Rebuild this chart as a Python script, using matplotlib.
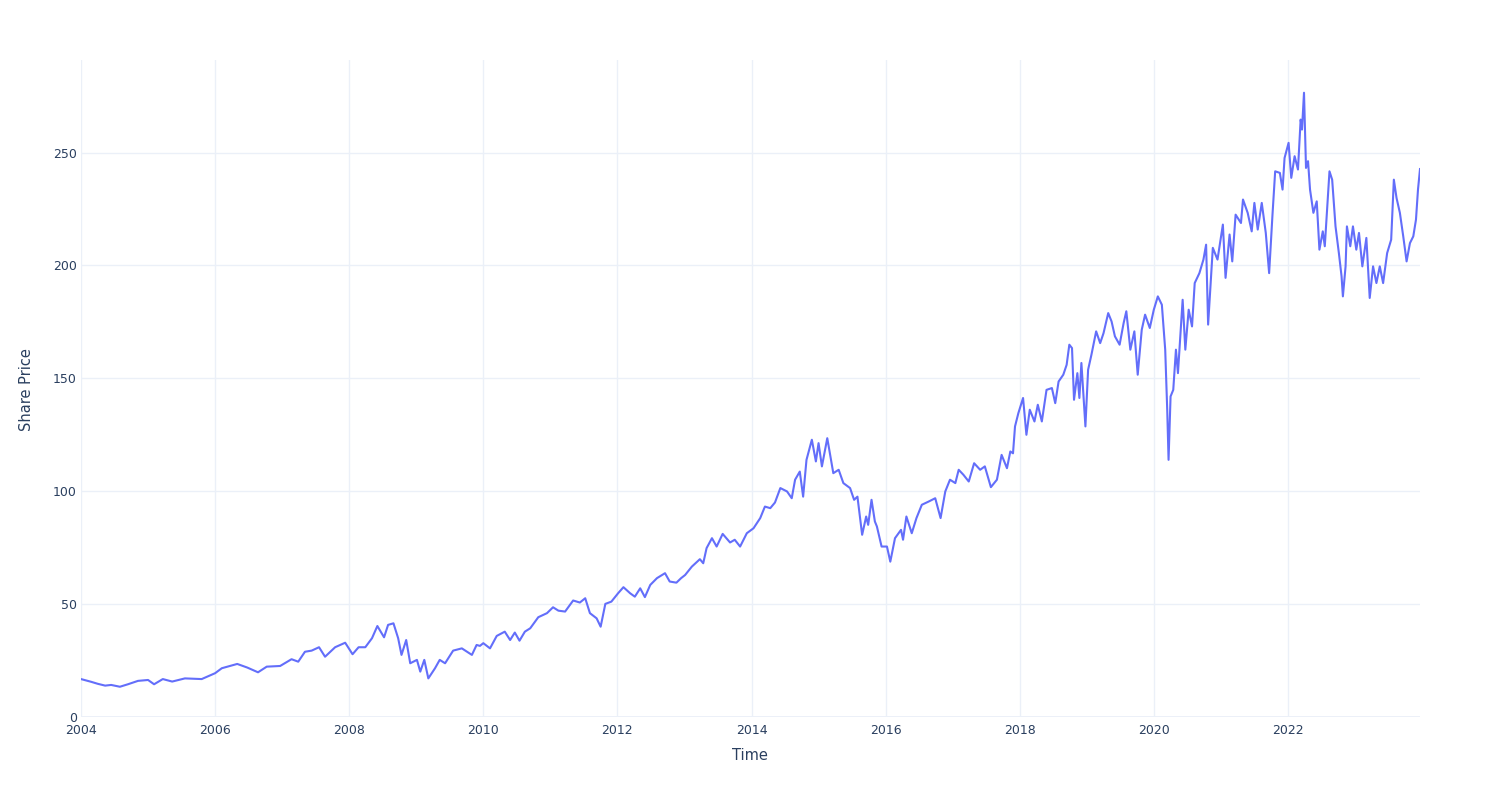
import matplotlib
matplotlib.use('Agg')
import matplotlib.pyplot as plt

# values (decimal year, share price)
years = [2004.00, 2004.15, 2004.25, 2004.36, 2004.45, 2004.58, 2004.70, 2004.85, 2005.00, 2005.09,
         2005.22, 2005.36, 2005.55, 2005.80, 2006.00, 2006.10, 2006.33, 2006.48, 2006.64, 2006.77,
         2006.97, 2007.14, 2007.24, 2007.34, 2007.44, 2007.55, 2007.64, 2007.79, 2007.94, 2008.05,
         2008.14, 2008.24, 2008.34, 2008.42, 2008.52, 2008.58, 2008.66, 2008.73, 2008.78, 2008.85,
         2008.91, 2009.01, 2009.06, 2009.12, 2009.18, 2009.28, 2009.35, 2009.43, 2009.55, 2009.68,
         2009.83, 2009.90, 2009.95, 2010.00, 2010.10, 2010.20, 2010.32, 2010.40, 2010.47, 2010.54,
         2010.62, 2010.70, 2010.82, 2010.95, 2011.04, 2011.12, 2011.22, 2011.34, 2011.44, 2011.52,
         2011.59, 2011.69, 2011.75, 2011.82, 2011.91, 2012.01, 2012.09, 2012.19, 2012.26, 2012.34,
         2012.41, 2012.49, 2012.59, 2012.71, 2012.78, 2012.88, 2012.95, 2013.01, 2013.11, 2013.23,
         2013.28, 2013.33, 2013.41, 2013.48, 2013.57, 2013.68, 2013.75, 2013.83, 2013.93, 2014.03,
         2014.13, 2014.20, 2014.28, 2014.35, 2014.43, 2014.53, 2014.60, 2014.65, 2014.72, 2014.77,
         2014.82, 2014.90, 2014.96, 2015.00, 2015.05, 2015.13, 2015.22, 2015.30, 2015.37, 2015.47,
         2015.53, 2015.58, 2015.65, 2015.71, 2015.74, 2015.79, 2015.84, 2015.87, 2015.94, 2016.02,
         2016.07, 2016.14, 2016.23, 2016.26, 2016.31, 2016.39, 2016.46, 2016.54, 2016.64, 2016.74,
         2016.82, 2016.89, 2016.96, 2017.04, 2017.09, 2017.16, 2017.24, 2017.32, 2017.41, 2017.48,
         2017.57, 2017.66, 2017.73, 2017.81, 2017.86, 2017.90, 2017.93, 2017.98, 2018.05, 2018.10,
         2018.15, 2018.22, 2018.27, 2018.33, 2018.40, 2018.48, 2018.53, 2018.58, 2018.65, 2018.70,
         2018.74, 2018.78, 2018.81, 2018.86, 2018.89, 2018.92, 2018.98, 2019.02, 2019.07, 2019.14,
         2019.20, 2019.25, 2019.32, 2019.37, 2019.42, 2019.49, 2019.55, 2019.59, 2019.65, 2019.71,
         2019.76, 2019.82, 2019.87, 2019.94, 2020.00, 2020.06, 2020.12, 2020.17, 2020.20, 2020.22,
         2020.25, 2020.29, 2020.33, 2020.36, 2020.43, 2020.47, 2020.52, 2020.57, 2020.61, 2020.68,
         2020.74, 2020.78, 2020.81, 2020.88, 2020.95, 2021.03, 2021.07, 2021.13, 2021.17, 2021.22,
         2021.30, 2021.33, 2021.40, 2021.46, 2021.50, 2021.55, 2021.61, 2021.67, 2021.72, 2021.77,
         2021.81, 2021.88, 2021.92, 2021.95, 2022.01, 2022.05, 2022.10, 2022.15, 2022.19, 2022.21,
         2022.24, 2022.27, 2022.30, 2022.33, 2022.38, 2022.43, 2022.47, 2022.52, 2022.55, 2022.62,
         2022.66, 2022.71, 2022.76, 2022.80, 2022.82, 2022.86, 2022.88, 2022.93, 2022.97, 2023.02,
         2023.06, 2023.11, 2023.17, 2023.22, 2023.27, 2023.32, 2023.37, 2023.42, 2023.48, 2023.54,
         2023.58, 2023.62, 2023.67, 2023.72, 2023.77, 2023.82, 2023.87, 2023.91, 2023.94, 2023.97]

price = [16.8, 15.6, 14.7, 13.9, 14.2, 13.4, 14.5, 16.0, 16.4, 14.5,
         16.8, 15.7, 17.1, 16.8, 19.4, 21.6, 23.5, 21.9, 19.8, 22.3,
         22.6, 25.6, 24.5, 28.9, 29.4, 30.9, 26.7, 30.9, 32.9, 27.8,
         30.9, 30.9, 34.9, 40.3, 35.3, 40.8, 41.5, 34.9, 27.5, 34.1,
         23.8, 25.3, 20.1, 25.3, 17.1, 21.6, 25.3, 23.8, 29.4, 30.4,
         27.5, 31.9, 31.5, 32.7, 30.4, 35.9, 37.8, 34.1, 37.4, 33.8,
         37.8, 39.3, 44.2, 46.0, 48.6, 47.1, 46.7, 51.6, 50.7, 52.6,
         46.0, 43.7, 40.0, 50.1, 51.1, 54.8, 57.5, 54.8, 53.3, 57.0,
         53.1, 58.5, 61.5, 63.7, 60.0, 59.5, 61.5, 62.9, 66.6, 69.9,
         68.1, 74.8, 79.2, 75.5, 81.1, 77.3, 78.5, 75.5, 81.4, 83.6,
         88.1, 93.2, 92.5, 95.0, 101.4, 99.9, 96.9, 105.1, 108.7, 97.6,
         113.9, 122.8, 113.2, 121.3, 111.0, 123.5, 108.0, 109.5, 103.6, 101.4,
         96.2, 97.6, 80.7, 88.8, 85.1, 96.2, 86.6, 84.4, 75.5, 75.5,
         68.8, 79.2, 82.9, 78.5, 88.8, 81.4, 88.1, 94.0, 95.4, 96.9,
         88.1, 99.9, 105.1, 103.6, 109.5, 107.3, 104.3, 112.4, 109.5, 111.0,
         101.8, 105.1, 116.1, 110.2, 117.6, 116.8, 128.7, 134.6, 141.3, 125.0,
         136.1, 130.9, 138.3, 130.9, 144.9, 145.7, 139.0, 148.6, 151.6, 156.0,
         164.9, 163.4, 140.5, 152.3, 141.3, 156.8, 128.7, 153.8, 160.5, 170.8,
         165.6, 170.0, 178.9, 175.2, 168.6, 164.9, 174.5, 179.7, 162.7, 170.8,
         151.6, 171.5, 178.2, 172.3, 180.4, 186.3, 182.6, 162.7, 136.1, 113.9,
         142.0, 144.9, 162.7, 152.3, 184.8, 162.7, 180.4, 173.0, 192.2, 196.6,
         202.6, 209.2, 173.8, 207.8, 202.6, 218.1, 194.5, 213.7, 201.8, 222.5,
         218.8, 229.2, 223.3, 215.1, 227.7, 215.9, 227.7, 214.4, 196.6, 222.5,
         241.7, 241.0, 233.6, 247.6, 254.3, 238.8, 248.4, 242.5, 264.6, 260.2,
         276.5, 243.2, 246.2, 233.6, 223.3, 228.4, 207.0, 215.1, 208.5, 241.7,
         238.0, 217.3, 205.5, 195.2, 186.3, 199.6, 217.3, 208.5, 217.3, 207.0,
         214.4, 199.6, 212.2, 185.6, 199.6, 192.2, 199.6, 192.2, 205.5, 211.4,
         238.0, 229.9, 223.3, 212.9, 201.8, 209.9, 212.9, 220.3, 233.6, 242.7]

xticks = [2004, 2006, 2008, 2010, 2012, 2014, 2016, 2018, 2020, 2022]
yticks = [0, 50, 100, 150, 200, 250]

plt.rcParams['font.family'] = ['DejaVu Sans']
fig = plt.figure(figsize=(15, 8), dpi=100)
ax = fig.add_axes([81/1500, 83/800, 1339/1500, 657/800])

ax.plot(years, price, color='#636efa', linewidth=1.5, solid_joinstyle='round')

ax.set_xlim(years[0], years[-1])
ax.set_ylim(0, 291)
ax.set_xticks(xticks)
ax.set_xticklabels([str(t) for t in xticks])
ax.set_yticks(yticks)
ax.grid(True, color='#EBF0F8', linewidth=1)
ax.set_axisbelow(True)
ax.axhline(0, color='#EBF0F8', linewidth=2, zorder=0.5)
for s in ax.spines.values():
    s.set_visible(False)
ax.tick_params(length=0, labelsize=9, colors='#2a3f5f')
ax.tick_params(axis='x', pad=5)
ax.tick_params(axis='y', pad=3)

fig.text(750/1500, 1 - 756/800, 'Time', ha='center', va='center', fontsize=10.5, color='#2a3f5f')
fig.text(27/1500, 1 - 390/800, 'Share Price', ha='center', va='center', rotation=90,
         fontsize=10.5, color='#2a3f5f')

fig.savefig('out.png', dpi=100, facecolor='white')
